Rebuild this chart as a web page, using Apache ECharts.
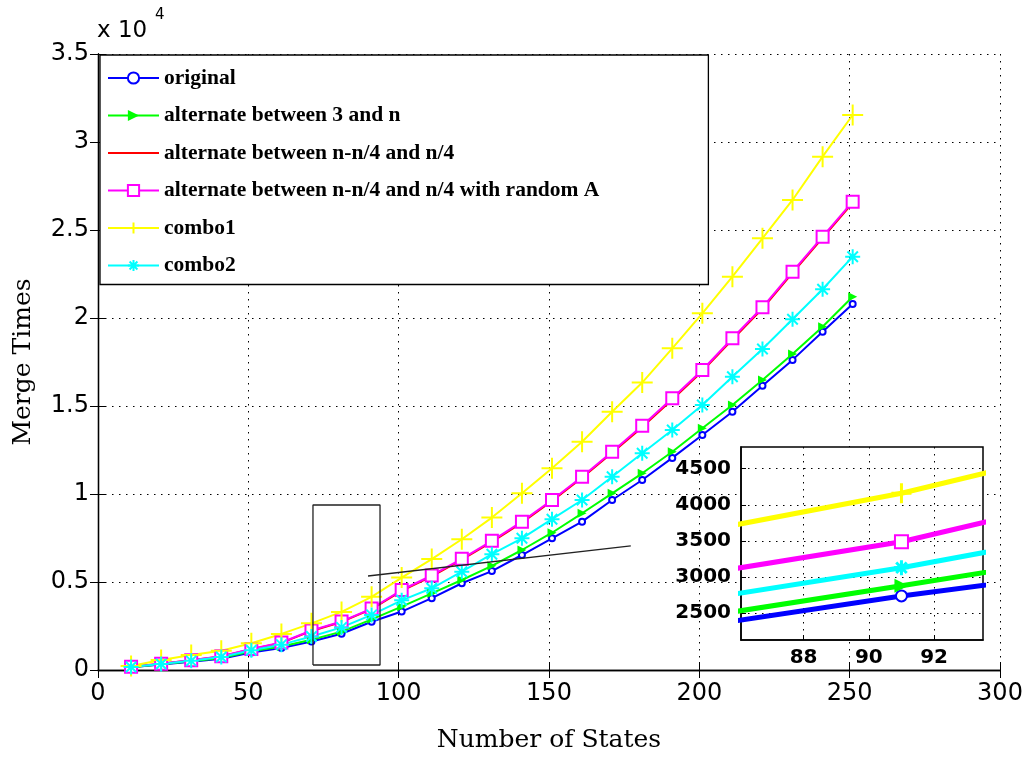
<!DOCTYPE html>
<html>
<head>
<meta charset="utf-8">
<title>Merge Times vs Number of States</title>
<script src="https://cdn.jsdelivr.net/npm/echarts@6/dist/echarts.min.js"></script>
<style>
  html, body { margin: 0; background: #fff; }
  #chart { width: 1030px; height: 764px; }
</style>
</head>
<body>
<div id="chart"></div>
<script>
// number of states (x values)
const states = [11, 21, 31, 41, 51, 61, 71, 81, 91, 101, 111, 121, 131, 141, 151, 161, 171, 181, 191, 201, 211, 221, 231, 241, 251];

// merge times for each method
const original = [150, 310, 470, 640, 1000, 1250, 1620, 2060, 2740, 3320, 4080, 4930, 5620, 6534, 7483, 8427, 9659, 10796, 12050, 13353, 14677, 16150, 17620, 19222, 20796];
const alt3n = [160, 320, 490, 680, 1060, 1330, 1720, 2180, 2880, 3600, 4358, 5114, 5920, 6818, 7800, 8904, 10040, 11176, 12404, 13733, 15057, 16480, 17950, 19506, 21211];
const altQuarter = [185, 355, 550, 770, 1180, 1540, 2220, 2730, 3460, 4500, 5320, 6270, 7280, 8370, 9600, 10920, 12340, 13800, 15370, 16980, 18780, 20540, 22560, 24550, 26540];
const altQuarterRand = [190, 360, 560, 780, 1200, 1560, 2250, 2760, 3490, 4546, 5370, 6320, 7340, 8427, 9659, 10983, 12404, 13873, 15438, 17046, 18847, 20608, 22632, 24621, 26610];
const combo1 = [230, 570, 850, 1090, 1520, 2050, 2650, 3300, 4160, 5250, 6300, 7430, 8660, 10040, 11460, 12972, 14677, 16330, 18278, 20267, 22348, 24529, 26705, 29166, 31535];
const combo2 = [170, 340, 520, 740, 1120, 1440, 1900, 2420, 3130, 3960, 4642, 5586, 6580, 7483, 8570, 9659, 10983, 12312, 13637, 15057, 16666, 18240, 19926, 21631, 23484];

const seriesNames = [
  "original",
  "alternate between 3 and n",
  "alternate between n-n/4 and n/4",
  "alternate between n-n/4 and n/4 with random A",
  "combo1",
  "combo2"
];

// inset tick values
const insetXTicks = [88, 90, 92];
const insetYTicks = [2500, 3000, 3500, 4000, 4500];

// annotation shapes (data coordinates)
const zoomBox = [[71.5, 284], [93.8, 284], [93.8, 9375], [71.5, 9375], [71.5, 284]];
const pointerLine = [[89.8, 5340], [177.2, 7050]];

const pts = arr => arr.map((v, i) => [states[i], v]);

const plusPath = "path://M0,10L20,10M10,0L10,20";
const starPath = "path://M10,0L10,20M0,10L20,10M3,3L17,17M17,3L3,17";

const styles = [
  { color: "#0000ff", symbol: "emptyCircle", size: 6, inset: 11, bw: 1.5 },
  { color: "#00ff00", symbol: "triangle", size: 9, inset: 14, rotate: -90, bw: 0 },
  { color: "#ff0000", symbol: "none", size: 0, inset: 0, bw: 0 },
  { color: "#ff00ff", symbol: "emptyRect", size: 12, inset: 13, bw: 2 },
  { color: "#ffff00", symbol: plusPath, size: 21, inset: 20, bw: 2 },
  { color: "#00ffff", symbol: starPath, size: 15, inset: 15, bw: 2 }
];
const values = [original, alt3n, altQuarter, altQuarterRand, combo1, combo2];

const dotted = { color: "#000", width: 1, type: [1.5, 5.5] };

const mainSeries = values.map((vals, i) => ({
  name: seriesNames[i],
  type: "line",
  xAxisIndex: 0,
  yAxisIndex: 0,
  data: pts(vals),
  symbol: styles[i].symbol,
  symbolSize: styles[i].size,
  symbolRotate: styles[i].rotate || 0,
  showAllSymbol: true,
  lineStyle: { color: styles[i].color, width: 2 },
  itemStyle: { color: styles[i].color, borderColor: styles[i].color, borderWidth: styles[i].bw },
  emphasis: { disabled: true },
  animation: false,
  z: 2
}));

// the red curve sits under the magenta one, so the zoomed inset leaves it out
const insetSeries = values.map((vals, i) => ({
  name: seriesNames[i],
  type: "line",
  xAxisIndex: 2,
  yAxisIndex: 2,
  data: pts(vals),
  symbol: styles[i].symbol,
  symbolSize: styles[i].inset,
  symbolRotate: styles[i].rotate || 0,
  showAllSymbol: true,
  clip: true,
  lineStyle: { color: styles[i].color, width: 5 },
  itemStyle: { color: styles[i].color, borderColor: styles[i].color, borderWidth: styles[i].bw ? styles[i].bw + 1 : 0 },
  emphasis: { disabled: true },
  animation: false,
  z: 5
})).filter((s, i) => i !== 2);

const annotations = [zoomBox, pointerLine].map(d => ({
  type: "line",
  xAxisIndex: 0,
  yAxisIndex: 0,
  data: d,
  symbol: "none",
  silent: true,
  lineStyle: { color: "#222", width: 1.3 },
  animation: false,
  z: 3
}));

const legendData = seriesNames.map((n, i) =>
  i === 2 ? { name: n, icon: "path://M0,6L51,6L51,8L0,8Z" } : { name: n }
);

const chart = echarts.init(document.getElementById("chart"));
chart.setOption({
  backgroundColor: "#fff",
  textStyle: { fontFamily: "DejaVu Sans", color: "#000" },
  graphic: [
    { type: "text", left: 97, top: 20, style: { text: "x 10", font: "23px 'DejaVu Sans'", fill: "#000" } },
    { type: "text", left: 155, top: 8, style: { text: "4", font: "15px 'DejaVu Sans'", fill: "#000" } }
  ],
  legend: {
    data: legendData,
    orient: "vertical",
    left: 100,
    top: 55,
    itemWidth: 51,
    itemHeight: 14,
    itemGap: 15.5,
    padding: [12, 109, 8, 7],
    backgroundColor: "#fff",
    borderColor: "#000",
    borderWidth: 1.3,
    selectedMode: false,
    textStyle: { fontFamily: "Liberation Serif", fontWeight: "bold", fontSize: 21.5, lineHeight: 20, color: "#000" },
    z: 6
  },
  grid: [
    { left: 98, top: 54, width: 902, height: 616 },
    { left: 741, top: 447, width: 242, height: 193, show: true, backgroundColor: "#fff", borderColor: "#000", borderWidth: 1.5, z: 3 }
  ],
  xAxis: [
    {
      type: "value", gridIndex: 0, min: 0, max: 300, interval: 50,
      name: "Number of States", nameLocation: "middle", nameGap: 58,
      nameTextStyle: { fontFamily: "DejaVu Serif", fontSize: 25, color: "#000" },
      axisLine: { lineStyle: { color: "#000", width: 1.3 } },
      axisTick: { inside: true, length: 8, lineStyle: { color: "#000" } },
      axisLabel: { fontFamily: "DejaVu Sans", fontSize: 24, color: "#000", margin: 12 },
      splitLine: { show: true, lineStyle: dotted }
    },
    {
      type: "value", gridIndex: 0, position: "top", min: 0, max: 300, interval: 50,
      axisLine: { lineStyle: { color: "#000", width: 1.3 } },
      axisTick: { inside: true, length: 8, lineStyle: { color: "#000" } },
      axisLabel: { show: false },
      splitLine: { show: false }
    },
    {
      type: "value", gridIndex: 1, min: 86.08, max: 93.5,
      z: 4,
      axisLine: { lineStyle: { color: "#000", width: 1.5 } },
      axisTick: { inside: true, length: 5, customValues: insetXTicks, lineStyle: { color: "#000" } },
      axisLabel: { customValues: insetXTicks, fontFamily: "DejaVu Sans", fontWeight: "bold", fontSize: 20, color: "#000", margin: 8 },
      splitLine: { show: true, lineStyle: dotted }
    }
  ],
  yAxis: [
    {
      type: "value", gridIndex: 0, min: 0, max: 35000, interval: 5000,
      name: "Merge Times", nameLocation: "middle", nameGap: 62,
      nameTextStyle: { fontFamily: "DejaVu Serif", fontSize: 25, color: "#000" },
      axisLine: { show: true, lineStyle: { color: "#000", width: 1.3 } },
      axisTick: { show: true, inside: true, length: 8, lineStyle: { color: "#000" } },
      axisLabel: { fontFamily: "DejaVu Sans", fontSize: 24, color: "#000", margin: 9, formatter: v => String(v / 10000) },
      splitLine: { show: true, lineStyle: dotted }
    },
    {
      type: "value", gridIndex: 0, position: "right", min: 0, max: 35000, interval: 5000,
      axisLine: { show: true, lineStyle: { color: "#000", width: 1.3 } },
      axisTick: { show: true, inside: true, length: 8, lineStyle: { color: "#000" } },
      axisLabel: { show: false },
      splitLine: { show: false }
    },
    {
      type: "value", gridIndex: 1, min: 2130, max: 4800,
      z: 4,
      axisLine: { show: true, lineStyle: { color: "#000", width: 1.5 } },
      axisTick: { show: true, inside: true, length: 5, customValues: insetYTicks, lineStyle: { color: "#000" } },
      axisLabel: { customValues: insetYTicks, fontFamily: "DejaVu Sans", fontWeight: "bold", fontSize: 20, color: "#000", margin: 10, formatter: v => String(v) },
      splitLine: { show: true, lineStyle: dotted }
    }
  ],
  series: mainSeries.concat(annotations, insetSeries)
});
</script>
</body>
</html>
